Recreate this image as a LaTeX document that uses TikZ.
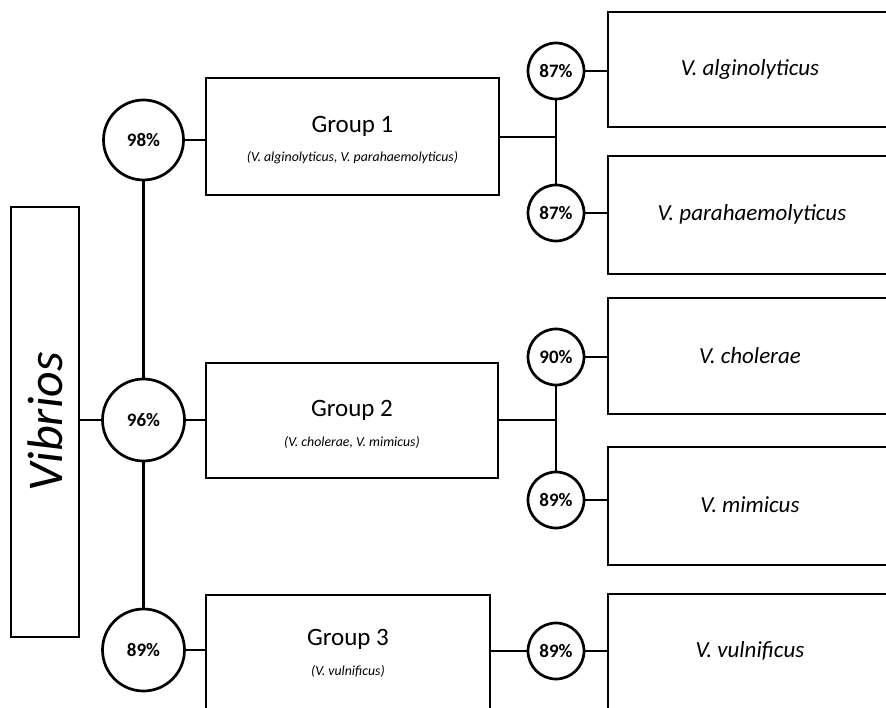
\documentclass[tikz,border=0pt]{standalone}
\usepackage{fontspec}
\setmainfont{Carlito}
\begin{document}
\begin{tikzpicture}[x=1pt,y=-1pt,
  lw/.style={line width=2.7pt},
  pct/.style={circle,draw,lw,inner sep=0pt,font=\fontsize{19}{21}\selectfont\bfseries},
  bigpct/.style={pct,minimum size=80pt},
  smallpct/.style={pct,minimum size=56pt},
  grp/.style={rectangle,draw,lw,inner sep=0pt},
  spbox/.style={rectangle,draw,lw,inner sep=0pt,minimum width=284pt,minimum height=116pt},
  sptext/.style={font=\fontsize{23}{25}\selectfont\itshape},
  gtitle/.style={font=\fontsize{25}{28}\selectfont},
  gsub/.style={font=\fontsize{13.8}{15}\selectfont\itshape},
  conn/.style={draw,lw}
]
\useasboundingbox (0,0) rectangle (886,708);
\clip (0,0) rectangle (886,708);
% Root
\node[grp,minimum width=68pt,minimum height=430pt] (vib) at (45,422) {};
\node[rotate=90,font=\fontsize{50}{52}\selectfont\itshape] (vibt) at (vib.center) {Vibrios};
% Left circles
\node[bigpct] (c98) at (143.5,140) {98\%};
\node[bigpct,minimum size=82pt] (c96) at (143.5,420) {96\%};
\node[bigpct,minimum size=82pt] (c89l) at (143.5,650) {89\%};
% Groups
\node[grp,minimum width=293pt,minimum height=117pt] (g1) at (352.5,136.5) {};
\node[gtitle] (g1t) at (352.5,126) {Group 1};
\node[gsub] (g1s) at (352.5,158) {(V. alginolyticus, V. parahaemolyticus)};
\node[grp,minimum width=292pt,minimum height=115pt] (g2) at (352,420.5) {};
\node[gtitle] (g2t) at (352,410) {Group 2};
\node[gsub] (g2s) at (352,442) {(V. cholerae, V. mimicus)};
\node[grp,minimum width=284pt,minimum height=116pt] (g3) at (348,653) {};
\node[gtitle] (g3t) at (348,639) {Group 3};
\node[gsub] (g3s) at (348,671) {(V. vulnificus)};
% Right circles
\node[smallpct] (c87a) at (556,71) {87\%};
\node[smallpct] (c87b) at (556,213) {87\%};
\node[smallpct] (c90) at (556,357) {90\%};
\node[smallpct] (c89a) at (556,500) {89\%};
\node[smallpct] (c89b) at (556,651) {89\%};
% Species boxes
\node[spbox,minimum height=115pt] (s1) at (750,69.5) {};
\node[sptext] (s1t) at (s1.center) {V. alginolyticus};
\node[spbox,minimum height=118pt] (s2) at (750,215) {};
\node[sptext] (s2t) at (752,214) {V. parahaemolyticus};
\node[spbox] (s3) at (750,356) {};
\node[sptext] (s3t) at (s3.center) {V. cholerae};
\node[spbox,minimum height=118pt] (s4) at (750,506) {};
\node[sptext] (s4t) at (750,505) {V. mimicus};
\node[spbox] (s5) at (750,652) {};
\node[sptext] (s5t) at (750,651) {V. vulnificus};
% Junction coordinates
\coordinate (j1) at (556,137);
\coordinate (j2) at (556,420);
% Connectors left
\draw[conn] (vib.east |- c96) -- (c96.west);
\draw[conn] (c98.south) -- (c96.north);
\draw[conn] (c96.south) -- (c89l.north);
\draw[conn] (c98.east) -- (g1.west |- c98);
\draw[conn] (c96.east) -- (g2.west |- c96);
\draw[conn] (c89l.east) -- (g3.west |- c89l);
% Connectors right
\draw[conn] (g1.east |- j1) -- (j1);
\draw[conn] (c87a.south) -- (c87b.north);
\draw[conn] (c87a.east) -- (s1.west |- c87a);
\draw[conn] (c87b.east) -- (s2.west |- c87b);
\draw[conn] (g2.east |- j2) -- (j2);
\draw[conn] (c90.south) -- (c89a.north);
\draw[conn] (c90.east) -- (s3.west |- c90);
\draw[conn] (c89a.east) -- (s4.west |- c89a);
\draw[conn] (g3.east |- c89b) -- (c89b.west);
\draw[conn] (c89b.east) -- (s5.west |- c89b);
\end{tikzpicture}
\end{document}
